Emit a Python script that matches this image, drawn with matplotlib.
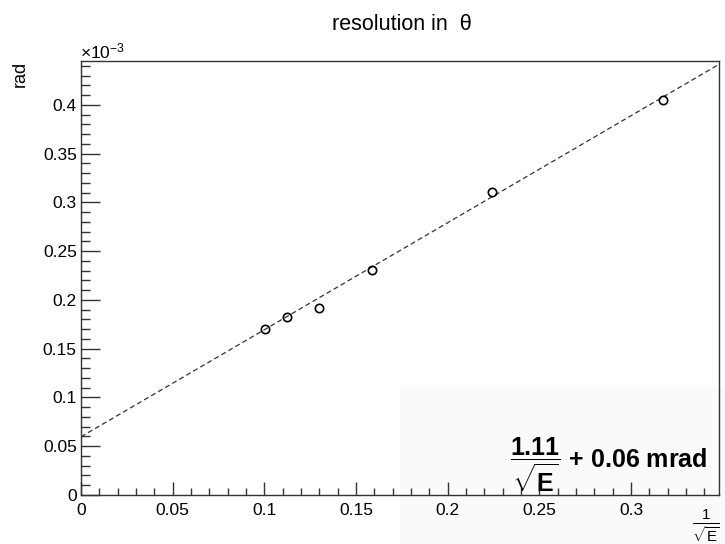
import numpy as np
import matplotlib
matplotlib.use('Agg')
import matplotlib.pyplot as plt
from matplotlib.ticker import MultipleLocator, FuncFormatter
from matplotlib.patches import Rectangle

plt.rcParams['font.family'] = ['Liberation Sans', 'DejaVu Sans']
plt.rcParams['mathtext.fontset'] = 'custom'
plt.rcParams['mathtext.rm'] = 'Liberation Sans'
plt.rcParams['mathtext.bf'] = 'Liberation Sans:bold'
plt.rcParams['mathtext.it'] = 'Liberation Sans:italic'

# 1/sqrt(E) and resolution in theta (rad)
inv_sqrt_e = [0.1003, 0.1125, 0.1298, 0.1589, 0.2243, 0.3175]
res_theta = [0.170e-3, 0.1826e-3, 0.192e-3, 0.231e-3, 0.311e-3, 0.4044e-3]
# fitted line: a/sqrt(E) + b
fit_a = 1.097e-3
fit_b = 0.0597e-3

fig = plt.figure(figsize=(7.25, 5.44), dpi=100)
fig.patch.set_facecolor('white')
# faint pave behind the fit text
fig.patches.append(Rectangle((400/725, 0), 325/725, 157/544, transform=fig.transFigure,
                             facecolor='#fafafa', edgecolor='none', zorder=-1))

ax = fig.add_axes([81/725, 1-495/544, 638/725, 434.5/544])
ax.set_facecolor('none')

xs = np.array([0, 0.36])
ax.plot(xs, fit_a*xs + fit_b, color='#333333', lw=0.9, dashes=(4, 2.5), zorder=2)
ax.plot(inv_sqrt_e, res_theta, 'o', ms=6, mfc='none', mec='black', mew=1.2, zorder=3)

ax.set_xlim(0, 0.348)
ax.set_ylim(0, 0.4454e-3)

ax.xaxis.set_major_locator(MultipleLocator(0.05))
ax.xaxis.set_minor_locator(MultipleLocator(0.01))
ax.yaxis.set_major_locator(MultipleLocator(0.05e-3))
ax.yaxis.set_minor_locator(MultipleLocator(0.01e-3))
ax.xaxis.set_major_formatter(FuncFormatter(lambda v, p: ('%g' % round(v, 4))))
ax.yaxis.set_major_formatter(FuncFormatter(lambda v, p: ('%g' % round(v*1e3, 4))))

ax.tick_params(axis='both', which='both', direction='in', colors='#333333', labelcolor='black',
               labelsize=12.5, width=1)
ax.tick_params(axis='y', which='major', length=14, pad=3)
ax.tick_params(axis='y', which='minor', length=6.5)
ax.tick_params(axis='x', which='major', length=9.5, pad=6)
ax.tick_params(axis='x', which='minor', length=5)
for s in ax.spines.values():
    s.set_color('#333333')
    s.set_linewidth(1)

fig.text(402/725, 1-24/544, 'resolution in  θ', ha='center', va='center', fontsize=15.5)
fig.text(20/725, 1-74/544, 'rad', rotation=90, ha='center', va='center', fontsize=13)
fig.text(80/725, 1-51/544, r'$\times$10$^{-3}$', ha='left', va='center', fontsize=12.5)
fig.text(706/725, 1-526/544, r'$\frac{1}{\sqrt{\mathrm{E}}}$', ha='center', va='center', fontsize=15.5)

fig.text(609/725, 1-465/544, r'$\mathbf{\dfrac{1.11}{\sqrt{E}}}$ + 0.06 mrad',
         ha='center', va='center', fontsize=18, fontweight='bold')

fig.savefig('out.png', dpi=100)
